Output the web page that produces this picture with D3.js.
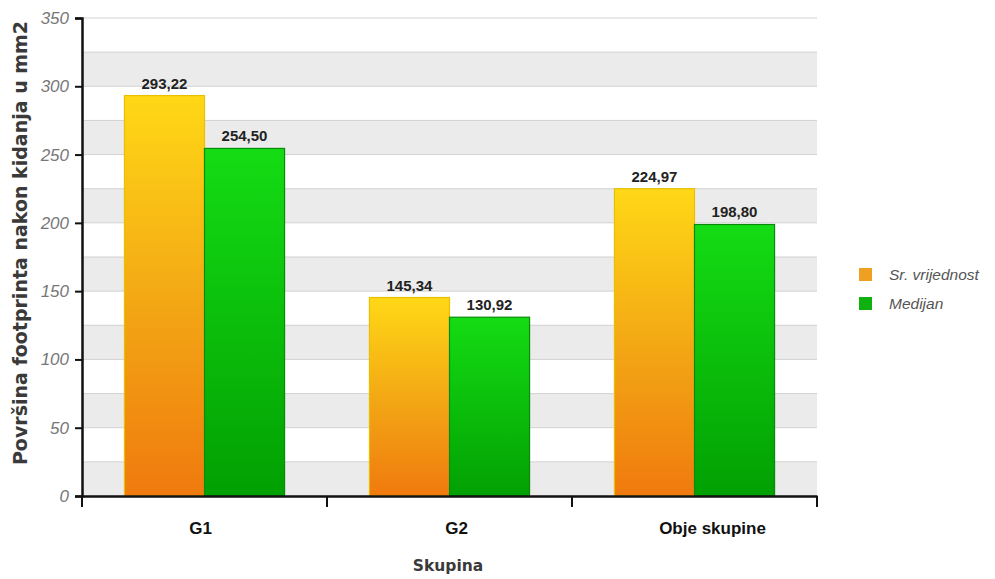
<!DOCTYPE html>
<html><head><meta charset="utf-8">
<script src="https://cdn.jsdelivr.net/npm/d3@7"></script>
<style>body{margin:0;background:#fff;} svg{display:block;}</style>
</head><body>
<svg id="c" width="995" height="579"></svg>
<script>
const categories = ["G1", "G2", "Obje skupine"];
const seriesNames = ["Sr. vrijednost", "Medijan"];
const meanValues = [293.22, 145.34, 224.97];
const medianValues = [254.50, 130.92, 198.80];
const yTicks = [0, 50, 100, 150, 200, 250, 300, 350];

const svg = d3.select("#c");
const m = {l: 82, r: 817, t: 18, b: 496};
const x = d3.scaleBand().domain(categories).range([m.l, m.r]).paddingInner(0).paddingOuter(0);
const xs = d3.scaleBand().domain(seriesNames).range([0, x.bandwidth()]).paddingInner(0).paddingOuter(0.53);
const xl = d3.scalePoint().domain(categories).range([200, 712]);
const y = d3.scaleLinear().domain([0, 350]).range([m.b, m.t]);

const defs = svg.append("defs");
const g1 = defs.append("linearGradient").attr("id","gO").attr("x1",0).attr("y1",0).attr("x2",0).attr("y2",1);
g1.append("stop").attr("offset","0%").attr("stop-color","#ffd816");
g1.append("stop").attr("offset","55%").attr("stop-color","#f2a414");
g1.append("stop").attr("offset","100%").attr("stop-color","#f07a0e");
const g2 = defs.append("linearGradient").attr("id","gG").attr("x1",0).attr("y1",0).attr("x2",0).attr("y2",1);
g2.append("stop").attr("offset","0%").attr("stop-color","#14dc14");
g2.append("stop").attr("offset","100%").attr("stop-color","#02a002");
const fills = ["url(#gO)", "url(#gG)"];
const strokes = ["#e8c000", "#0a8a0a"];
const legendColors = ["#f0a020", "#10b010"];

// bands
const bandStarts = d3.range(0, 350, 50);
svg.append("g").selectAll("rect").data(bandStarts).join("rect")
  .attr("x", m.l).attr("width", m.r - m.l)
  .attr("y", d => y(d + 25)).attr("height", d => y(d) - y(d + 25))
  .attr("fill", "#ebebeb");
// grid lines
svg.append("g").selectAll("line").data(d3.range(25, 351, 25)).join("line")
  .attr("x1", m.l).attr("x2", m.r).attr("y1", d => y(d)).attr("y2", d => y(d))
  .attr("stroke", "#d2d2d2").attr("stroke-width", 1);

// bars
const data = categories.map((c,i)=>({c, vals:[meanValues[i], medianValues[i]]}));
const grp = svg.append("g").selectAll("g").data(data).join("g")
  .attr("transform", d => `translate(${x(d.c)},0)`);
grp.selectAll("rect").data(d => d.vals.map((v,j)=>({v,j}))).join("rect")
  .attr("x", d => xs(seriesNames[d.j])).attr("width", xs.bandwidth())
  .attr("y", d => y(d.v)).attr("height", d => y(0) - y(d.v))
  .attr("fill", d => fills[d.j]).attr("stroke", d => strokes[d.j]).attr("stroke-width", 1.2);
grp.selectAll("text").data(d => d.vals.map((v,j)=>({v,j}))).join("text")
  .attr("x", d => xs(seriesNames[d.j]) + xs.bandwidth()/2)
  .attr("y", d => y(d.v) - 7)
  .attr("text-anchor", "middle")
  .attr("font-family", "Liberation Sans, Arial, sans-serif").attr("font-weight", "bold")
  .attr("font-size", 15).attr("fill", "#222")
  .text(d => d3.format(".2f")(d.v).replace(".", ","));

// y axis
const ya = svg.append("g").attr("transform", `translate(${m.l},0)`)
  .call(d3.axisLeft(y).tickValues(yTicks).tickSize(7).tickPadding(6));
ya.select(".domain").attr("stroke", "#111").attr("stroke-width", 2.5);
ya.selectAll(".tick line").attr("stroke", "#111").attr("stroke-width", 2);
ya.selectAll("text").attr("font-family", "Liberation Sans, Arial, sans-serif").attr("font-style", "italic")
  .attr("font-size", 17).attr("fill", "#777");

// x axis line + ticks
const xa = svg.append("g").attr("transform", `translate(0,${m.b})`)
  .call(d3.axisBottom(x).tickSize(0).tickFormat(""));
xa.select(".domain").attr("stroke", "#111").attr("stroke-width", 2.5);
svg.append("g").selectAll("line").data(categories.map(c => x(c)).concat([m.r])).join("line")
  .attr("x1", d => d).attr("x2", d => d).attr("y1", m.b).attr("y2", m.b + 11)
  .attr("stroke", "#111").attr("stroke-width", 2);
// x labels
const xlab = svg.append("g").attr("transform", `translate(0,${m.b})`)
  .call(d3.axisBottom(xl).tickSize(0).tickPadding(26));
xlab.select(".domain").remove();
xlab.selectAll("text").attr("font-family", "Liberation Sans, Arial, sans-serif").attr("font-weight", "bold")
  .attr("font-size", 17).attr("fill", "#111");

// axis titles
svg.append("text").attr("transform", `translate(27,${243}) rotate(-90)`)
  .attr("text-anchor", "middle").attr("font-family", "DejaVu Sans, sans-serif").attr("font-weight", "bold")
  .attr("font-size", 19).attr("fill", "#3a3a3a").text("Površina footprinta nakon kidanja u mm2");
svg.append("text").attr("x", 448).attr("y", 571).attr("text-anchor", "middle")
  .attr("font-family", "DejaVu Sans, sans-serif").attr("font-weight", "bold")
  .attr("font-size", 15.5).attr("fill", "#3a3a3a").text("Skupina");

// legend
const lg = svg.append("g").attr("transform", "translate(859,268)");
const li = lg.selectAll("g").data(seriesNames).join("g").attr("transform", (d,i)=>`translate(0,${i*29})`);
li.append("rect").attr("width", 13).attr("height", 13).attr("fill", (d,i)=>legendColors[i]);
li.append("text").attr("x", 30).attr("y", 12).attr("font-family", "Liberation Sans, Arial, sans-serif")
  .attr("font-style", "italic").attr("font-size", 15.5).attr("fill", "#555").text(d=>d);
</script>
</body></html>
